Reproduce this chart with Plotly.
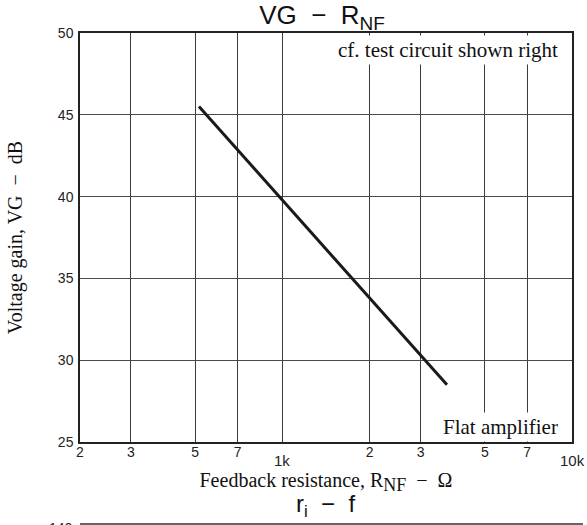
import math
import plotly.graph_objects as go

# Data
r_nf = [515, 1000, 3700]          # feedback resistance, ohm
vg_db = [45.5, 39.8, 28.5]        # voltage gain, dB

x_tickvals = [200, 300, 500, 700, 1000, 2000, 3000, 5000, 7000, 10000]
x_ticktext = ["2", "3", "5", "7", "", "2", "3", "5", "7", ""]
x_decade_vals = [1000, 10000]
x_decade_text = ["1k", "10k"]
y_tickvals = [25, 30, 35, 40, 45, 50]

SANS = "Liberation Sans, Arial, sans-serif"
SERIF = "Liberation Serif, Times New Roman, serif"

W, H = 587, 525
L, R, T, B = 80, 15, 33, 83
PW, PH = W - L - R, H - T - B


def px(x):
    return (x - L) / PW


def py(y):
    return (T + PH - y) / PH


fig = go.Figure()
fig.add_trace(go.Scatter(
    x=r_nf, y=vg_db, mode="lines",
    line=dict(color="#1a1a1a", width=3),
    showlegend=False, hoverinfo="skip",
))

fig.update_layout(
    width=W, height=H,
    margin=dict(l=L, r=R, t=T, b=B, autoexpand=False),
    paper_bgcolor="white", plot_bgcolor="white",
    title=dict(
        text="VG&nbsp;&nbsp;−&nbsp;&nbsp;R<sub><span style='font-size:19px'>NF</span></sub>",
        font=dict(family=SANS, size=26, color="#111"),
        x=322 / W, xanchor="center", xref="container",
        y=1 - 15 / H, yanchor="middle", yref="container",
        automargin=False,
    ),
    xaxis=dict(
        type="log", automargin=False,
        range=[2.30103, 4.0],
        tickmode="array", tickvals=x_tickvals, ticktext=x_ticktext,
        tickfont=dict(family=SANS, size=14, color="#222"),
        ticks="", ticklabelstandoff=-4,
        showgrid=True, gridcolor="#3a3a3a", gridwidth=1,
        showline=True, linecolor="#222", linewidth=1.5, mirror=True,
        zeroline=False,
        title=dict(
            text="Feedback resistance, R<sub><span style='font-size:18px'>NF</span></sub>&nbsp;&nbsp;−&nbsp;&nbsp;Ω",
            font=dict(family=SERIF, size=20, color="#111"),
            standoff=14,
        ),
    ),
    yaxis=dict(
        range=[25, 50], automargin=False,
        tickmode="array", tickvals=y_tickvals,
        tickfont=dict(family=SANS, size=14, color="#222"),
        ticks="", ticklabelstandoff=2,
        showgrid=True, gridcolor="#4a4a4a", gridwidth=1,
        showline=True, linecolor="#222", linewidth=1.5, mirror=True,
        zeroline=False,
        title=dict(
            text="Voltage gain, VG&nbsp;&nbsp;−&nbsp;&nbsp;dB",
            font=dict(family=SERIF, size=20, color="#111"),
            standoff=30,
        ),
    ),
)

annotations = []
for v, t in zip(x_decade_vals, x_decade_text):
    annotations.append(dict(
        x=math.log10(v), xref="x", y=0, yref="paper",
        text=t, showarrow=False, xanchor="center", yanchor="top",
        yshift=-8, font=dict(family=SANS, size=15, color="#222"),
    ))

annotations.append(dict(
    x=px(561), xref="paper", y=py(50), yref="paper",
    text="cf. test circuit shown right", showarrow=False,
    xanchor="right", yanchor="middle", bgcolor="white", borderpad=2,
    font=dict(family=SERIF, size=21, color="#111"),
))
annotations.append(dict(
    x=px(561), xref="paper", y=py(427), yref="paper",
    text="Flat amplifier", showarrow=False,
    xanchor="right", yanchor="middle", bgcolor="white", borderpad=2,
    font=dict(family=SERIF, size=21, color="#111"),
))
# Top of the next chart (cut off in the reference)
annotations.append(dict(
    x=px(325), xref="paper", y=py(505), yref="paper",
    text="r<sub>i</sub>&nbsp;&nbsp;−&nbsp;&nbsp;f", showarrow=False,
    xanchor="center", yanchor="middle",
    font=dict(family=SANS, size=24, color="#111"),
))
annotations.append(dict(
    x=px(75), xref="paper", y=py(528), yref="paper",
    text="140", showarrow=False, xanchor="right", yanchor="middle",
    font=dict(family=SANS, size=14, color="#222"),
))
fig.update_layout(annotations=annotations)

fig.add_shape(
    type="line", xref="paper", yref="paper",
    x0=0, x1=px(583), y0=py(524), y1=py(524),
    line=dict(color="#333", width=1.5),
)

fig.write_html(
    "out.html",
    config={"displayModeBar": False},
    post_script="document.body.style.margin='0';document.body.style.padding='0';",
)
